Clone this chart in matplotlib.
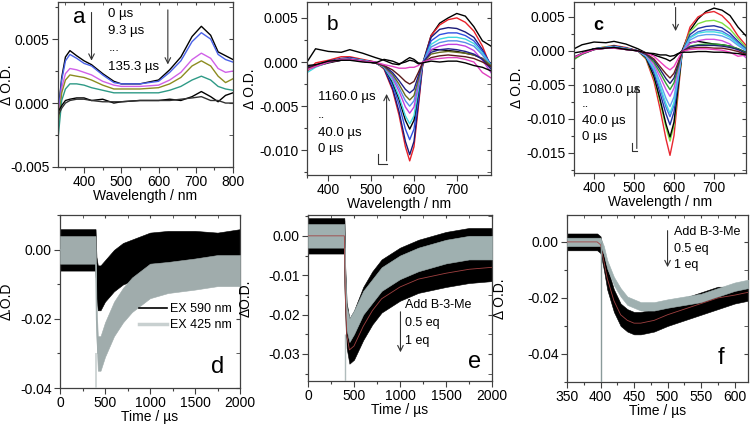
import numpy as np
import matplotlib
matplotlib.use('Agg')
import matplotlib.pyplot as plt
from matplotlib.ticker import MultipleLocator, FormatStrFormatter

plt.rcParams['font.family'] = ['Liberation Sans', 'DejaVu Sans']
plt.rcParams['font.size'] = 10
plt.rcParams['axes.unicode_minus'] = False

# ---------------- panel a: transient spectra (0 .. 135.3 us)
wl_a = [330, 340, 350, 362, 380, 400, 420, 450, 480, 500, 550, 600, 630, 660, 690, 715, 740, 760, 780, 800]
a_black = [-0.0008, 0.0020, 0.0036, 0.0041, 0.0037, 0.0033, 0.0030, 0.0023, 0.0017, 0.0015, 0.0015, 0.0018, 0.0026, 0.0036, 0.0052, 0.0060, 0.0053, 0.0040, 0.0037, 0.0034]
a_blue = [-0.0010, 0.0018, 0.0033, 0.0038, 0.0035, 0.0031, 0.0029, 0.0022, 0.0016, 0.0015, 0.0015, 0.0017, 0.0024, 0.0033, 0.0048, 0.0055, 0.0050, 0.0038, 0.0034, 0.0032]
a_magenta = [-0.0015, 0.0012, 0.0023, 0.0027, 0.0026, 0.0024, 0.0022, 0.0017, 0.0014, 0.0013, 0.0013, 0.0014, 0.0018, 0.0024, 0.0034, 0.0039, 0.0035, 0.0027, 0.0024, 0.0025]
a_olive = [-0.0020, 0.0008, 0.0018, 0.0022, 0.0021, 0.0020, 0.0018, 0.0014, 0.0011, 0.0011, 0.0011, 0.0012, 0.0015, 0.0020, 0.0029, 0.0033, 0.0029, 0.0021, 0.0016, 0.0019]
a_teal = [-0.0028, 0.0002, 0.0011, 0.0015, 0.0015, 0.0014, 0.0012, 0.0010, 0.0008, 0.0008, 0.0008, 0.0008, 0.0010, 0.0013, 0.0018, 0.0021, 0.0018, 0.0013, 0.0011, 0.0010]
a_low1 = [-0.0007, -0.0002, 0.0002, 0.0003, 0.0004, 0.0004, 0.0002, 0.0003, 0.0000, 0.0001, 0.0002, 0.0002, 0.0003, 0.0002, 0.0005, 0.0009, 0.0005, 0.0001, 0.0006, 0.0008]
a_low2 = [-0.0010, -0.0004, 0.0000, 0.0002, 0.0003, 0.0003, 0.0002, 0.0001, 0.0001, 0.0001, 0.0002, 0.0002, 0.0002, 0.0003, 0.0004, 0.0005, 0.0002, 0.0002, 0.0000, 0.0000]
a_series = [a_black, a_blue, a_magenta, a_olive, a_teal, a_low1, a_low2]
a_colors = ['black', '#4a62e8', '#d060e8', '#8c8c20', '#2e9a86', 'black', '#333333']

# ---------------- panel b: spectra 0 .. 1160 us
wl_b = [350, 370, 400, 430, 450, 480, 510, 530, 550, 565, 580, 590, 600, 610, 620, 640, 660, 680, 700, 720, 740, 760, 780]
b_black = [0.0000, 0.0015, 0.0012, 0.0011, 0.0014, 0.0010, 0.0005, 0.0002, -0.0002, -0.0003, 0.0002, 0.0005, 0.0003, -0.0001, -0.0002, 0.0030, 0.0044, 0.0050, 0.0055, 0.0052, 0.0040, 0.0024, 0.0018]
b_red = [-0.0011, -0.0001, 0.0002, 0.0006, 0.0006, 0.0003, 0.0000, -0.0008, -0.0032, -0.0060, -0.0096, -0.0112, -0.0096, -0.0052, -0.0005, 0.0030, 0.0042, 0.0048, 0.0050, 0.0045, 0.0035, 0.0018, -0.0006]
b_navy = [-0.0006, -0.0004, 0.0001, 0.0004, 0.0005, 0.0002, 0.0000, -0.0007, -0.0030, -0.0056, -0.0090, -0.0105, -0.0090, -0.0048, -0.0004, 0.0028, 0.0037, 0.0039, 0.0038, 0.0034, 0.0028, 0.0014, -0.0004]
b_blue = [-0.0008, -0.0005, 0.0000, 0.0003, 0.0004, 0.0002, -0.0001, -0.0006, -0.0026, -0.0048, -0.0076, -0.0088, -0.0076, -0.0041, -0.0003, 0.0024, 0.0031, 0.0033, 0.0033, 0.0030, 0.0024, 0.0012, -0.0003]
b_black2 = [-0.0005, -0.0005, -0.0001, 0.0002, 0.0003, 0.0001, -0.0001, -0.0006, -0.0023, -0.0042, -0.0066, -0.0076, -0.0066, -0.0035, -0.0002, 0.0014, 0.0014, 0.0013, 0.0012, 0.0010, 0.0008, 0.0004, -0.0006]
b_cyan = [-0.0012, -0.0006, 0.0000, 0.0003, 0.0004, 0.0002, -0.0001, -0.0006, -0.0021, -0.0039, -0.0061, -0.0070, -0.0061, -0.0032, -0.0002, 0.0020, 0.0026, 0.0028, 0.0028, 0.0026, 0.0021, 0.0010, -0.0004]
b_violet = [-0.0008, -0.0005, 0.0000, 0.0003, 0.0004, 0.0001, -0.0001, -0.0005, -0.0018, -0.0033, -0.0051, -0.0058, -0.0051, -0.0027, -0.0002, 0.0014, 0.0018, 0.0020, 0.0020, 0.0018, 0.0013, 0.0002, -0.0012]
b_lblue = [-0.0007, -0.0004, 0.0000, 0.0003, 0.0004, 0.0001, -0.0001, -0.0005, -0.0016, -0.0029, -0.0044, -0.0050, -0.0044, -0.0023, -0.0001, 0.0017, 0.0022, 0.0024, 0.0024, 0.0022, 0.0018, 0.0008, -0.0006]
b_olive = [-0.0009, -0.0005, 0.0000, 0.0003, 0.0003, 0.0001, -0.0001, -0.0005, -0.0014, -0.0025, -0.0038, -0.0043, -0.0038, -0.0020, -0.0001, 0.0009, 0.0011, 0.0012, 0.0011, 0.0010, 0.0008, 0.0004, -0.0004]
b_navy2 = [-0.0006, -0.0004, 0.0000, 0.0002, 0.0003, 0.0001, -0.0001, -0.0004, -0.0012, -0.0021, -0.0031, -0.0035, -0.0031, -0.0016, -0.0001, 0.0011, 0.0014, 0.0015, 0.0014, 0.0012, 0.0009, 0.0003, -0.0008]
b_brown = [-0.0007, -0.0004, 0.0000, 0.0002, 0.0003, 0.0001, -0.0001, -0.0004, -0.0009, -0.0015, -0.0022, -0.0025, -0.0022, -0.0012, -0.0001, 0.0005, 0.0007, 0.0008, 0.0007, 0.0006, 0.0004, 0.0000, -0.0005]
b_pink = [-0.0009, -0.0005, 0.0000, 0.0003, 0.0003, 0.0001, 0.0000, -0.0003, -0.0005, -0.0007, -0.0007, -0.0006, -0.0006, -0.0004, 0.0000, 0.0003, 0.0004, 0.0005, 0.0005, 0.0003, 0.0000, -0.0012, -0.0018]
b_black3 = [-0.0004, -0.0003, 0.0001, 0.0002, 0.0002, 0.0000, -0.0001, 0.0003, 0.0001, -0.0002, 0.0000, 0.0002, 0.0001, -0.0002, -0.0001, 0.0001, 0.0000, 0.0001, 0.0001, -0.0001, -0.0004, -0.0006, -0.0010]
b_series = [b_black, b_red, b_navy, b_blue, b_black2, b_cyan, b_violet, b_lblue, b_olive, b_navy2, b_brown, b_pink, b_black3]
b_colors = ['black', '#e82028', '#1a1a78', '#3050e0', 'black', '#40d8e0', '#c040e0', '#5a8ce8', '#6a6a20', '#20208a', '#5a1a1a', '#e040c0', 'black']

# ---------------- panel c: spectra 0 .. 1080 us
wl_c = wl_b
c_black = [0.0003, 0.0009, 0.0013, 0.0012, 0.0014, 0.0010, 0.0003, -0.0003, -0.0006, -0.0009, -0.0012, -0.0015, -0.0011, -0.0005, 0.0000, 0.0030, 0.0047, 0.0058, 0.0063, 0.0060, 0.0052, 0.0035, 0.0022]
c_red = [-0.0010, -0.0004, 0.0003, 0.0006, 0.0008, 0.0005, 0.0000, -0.0012, -0.0045, -0.0085, -0.0130, -0.0154, -0.0125, -0.0065, -0.0005, 0.0035, 0.0050, 0.0056, 0.0058, 0.0052, 0.0040, 0.0022, 0.0008]
c_lime = [-0.0013, -0.0005, 0.0003, 0.0006, 0.0007, 0.0004, 0.0000, -0.0011, -0.0040, -0.0075, -0.0113, -0.0133, -0.0110, -0.0058, -0.0004, 0.0028, 0.0040, 0.0044, 0.0045, 0.0041, 0.0032, 0.0018, 0.0005]
c_black2 = [-0.0010, -0.0004, 0.0003, 0.0005, 0.0007, 0.0004, 0.0000, -0.0010, -0.0038, -0.0071, -0.0108, -0.0127, -0.0105, -0.0055, -0.0004, 0.0012, 0.0014, 0.0012, 0.0010, 0.0009, 0.0007, 0.0003, -0.0002]
c_navy = [-0.0010, -0.0004, 0.0003, 0.0005, 0.0007, 0.0004, 0.0000, -0.0009, -0.0033, -0.0062, -0.0093, -0.0109, -0.0090, -0.0048, -0.0003, 0.0024, 0.0033, 0.0036, 0.0037, 0.0034, 0.0026, 0.0014, 0.0003]
c_blue = [-0.0010, -0.0004, 0.0003, 0.0005, 0.0006, 0.0004, 0.0000, -0.0008, -0.0029, -0.0055, -0.0083, -0.0097, -0.0080, -0.0043, -0.0003, 0.0020, 0.0028, 0.0031, 0.0031, 0.0029, 0.0022, 0.0012, 0.0002]
c_cyan = [-0.0011, -0.0005, 0.0002, 0.0005, 0.0006, 0.0003, 0.0000, -0.0008, -0.0027, -0.0052, -0.0078, -0.0092, -0.0076, -0.0040, -0.0003, 0.0019, 0.0026, 0.0028, 0.0028, 0.0026, 0.0020, 0.0010, 0.0001]
c_lblue = [-0.0010, -0.0004, 0.0002, 0.0005, 0.0006, 0.0003, 0.0000, -0.0007, -0.0024, -0.0046, -0.0070, -0.0082, -0.0068, -0.0036, -0.0002, 0.0016, 0.0022, 0.0024, 0.0024, 0.0022, 0.0017, 0.0008, 0.0000]
c_violet = [-0.0011, -0.0005, 0.0002, 0.0004, 0.0005, 0.0003, 0.0000, -0.0006, -0.0020, -0.0038, -0.0057, -0.0067, -0.0055, -0.0029, -0.0002, 0.0011, 0.0015, 0.0017, 0.0017, 0.0015, 0.0010, 0.0000, -0.0010]
c_green = [-0.0012, -0.0005, 0.0002, 0.0004, 0.0005, 0.0003, 0.0000, -0.0005, -0.0017, -0.0032, -0.0048, -0.0057, -0.0047, -0.0025, -0.0002, 0.0007, 0.0009, 0.0010, 0.0010, 0.0009, 0.0007, 0.0003, -0.0003]
c_navy2 = [-0.0009, -0.0004, 0.0002, 0.0004, 0.0005, 0.0002, 0.0000, -0.0005, -0.0014, -0.0027, -0.0041, -0.0048, -0.0040, -0.0021, -0.0001, 0.0006, 0.0008, 0.0008, 0.0008, 0.0007, 0.0005, 0.0002, -0.0004]
c_brown = [-0.0010, -0.0004, 0.0002, 0.0004, 0.0004, 0.0002, 0.0000, -0.0004, -0.0012, -0.0023, -0.0034, -0.0040, -0.0033, -0.0018, -0.0001, 0.0004, 0.0005, 0.0005, 0.0004, 0.0004, 0.0002, -0.0001, -0.0005]
c_pink = [-0.0010, -0.0004, 0.0002, 0.0004, 0.0004, 0.0002, 0.0000, -0.0003, -0.0008, -0.0016, -0.0024, -0.0028, -0.0023, -0.0012, -0.0001, 0.0002, 0.0003, 0.0003, 0.0002, 0.0001, -0.0002, -0.0008, -0.0006]
c_black3 = [-0.0003, -0.0001, 0.0003, 0.0004, 0.0005, 0.0002, 0.0000, -0.0003, -0.0004, -0.0006, -0.0006, -0.0008, -0.0007, -0.0004, -0.0002, -0.0002, -0.0001, -0.0001, -0.0002, -0.0002, -0.0003, -0.0004, -0.0006]
c_series = [c_black, c_red, c_lime, c_black2, c_navy, c_blue, c_cyan, c_lblue, c_violet, c_green, c_navy2, c_brown, c_pink, c_black3]
c_colors = ['black', '#e82830', '#7ee040', 'black', '#2030a0', '#4a70e0', '#40e0e0', '#60a0f0', '#d050e0', '#30a030', '#202070', '#6a2020', '#f040c0', 'black']

# ---------------- kinetics (centre of noisy trace and its half spread)
pulse_t = 400

t_d = [0, 100, 200, 300, 395, 405, 420, 450, 500, 600, 700, 800, 1000, 1200, 1500, 1750, 2000]
d590 = [0.000, 0.000, 0.000, 0.000, 0.000, -0.008, -0.011, -0.011, -0.009, -0.006, -0.004, -0.003, -0.001, 0.000, 0.000, 0.000, 0.001]
d590_sp = [0.006, 0.006, 0.006, 0.006, 0.006, 0.006, 0.0065, 0.0065, 0.006, 0.006, 0.006, 0.006, 0.006, 0.0055, 0.0055, 0.005, 0.005]
d425 = [0.000, 0.000, 0.000, 0.000, 0.000, -0.020, -0.030, -0.030, -0.026, -0.020, -0.016, -0.013, -0.009, -0.008, -0.007, -0.006, -0.006]
d425_sp = [0.004, 0.004, 0.004, 0.004, 0.004, 0.005, 0.005, 0.005, 0.005, 0.005, 0.005, 0.005, 0.005, 0.0045, 0.0045, 0.0045, 0.0045]

t_e = [0, 100, 200, 300, 395, 405, 420, 450, 500, 600, 700, 800, 1000, 1200, 1500, 1750, 2000]
e_0eq = [0, 0, 0, 0, 0, -0.012, -0.021, -0.024, -0.022, -0.017, -0.014, -0.011, -0.008, -0.006, -0.004, -0.003, -0.003]
e_0eq_sp = [0.003, 0.003, 0.003, 0.003, 0.003, 0.003, 0.003, 0.003, 0.003, 0.003, 0.003, 0.003, 0.003, 0.003, 0.003, 0.003, 0.003]
e_05eq = [0, 0, 0, 0, 0, -0.012, -0.021, -0.025, -0.023, -0.017, -0.013, -0.010, -0.007, -0.005, -0.003, -0.002, -0.002]
e_05eq_sp = [0.0045, 0.0045, 0.0045, 0.0045, 0.0045, 0.004, 0.004, 0.004, 0.004, 0.004, 0.004, 0.004, 0.004, 0.004, 0.004, 0.004, 0.004]
e_1eq = [0, 0, 0, 0, 0, -0.014, -0.025, -0.029, -0.028, -0.023, -0.019, -0.016, -0.013, -0.011, -0.0095, -0.0085, -0.008]
e_1eq_sp = [0.004, 0.004, 0.004, 0.004, 0.004, 0.0035, 0.0035, 0.0035, 0.0035, 0.0035, 0.0035, 0.0035, 0.0035, 0.0035, 0.0035, 0.0035, 0.0035]

t_f = [350, 360, 380, 395, 400, 405, 410, 420, 430, 440, 450, 460, 480, 500, 525, 550, 575, 600, 620]
f_1eq = [0, 0, 0, 0, -0.001, -0.007, -0.013, -0.021, -0.026, -0.028, -0.029, -0.029, -0.028, -0.026, -0.024, -0.022, -0.020, -0.019, -0.018]
f_1eq_sp = [0.003, 0.003, 0.003, 0.003, 0.003, 0.003, 0.004, 0.004, 0.004, 0.004, 0.004, 0.004, 0.004, 0.004, 0.004, 0.004, 0.004, 0.003, 0.003]
f_05eq = [0, 0, 0, 0, 0, -0.003, -0.008, -0.014, -0.018, -0.021, -0.022, -0.023, -0.023, -0.022, -0.021, -0.020, -0.018, -0.016, -0.015]
f_05eq_sp = [0.0015] * len(t_f)

GRAY = '#9fb0b0'
SPINE = '#404040'


def style(ax, xlim, ylim, xmaj, xmin, ymaj, ymin, yfmt):
    ax.set_xlim(*xlim)
    ax.set_ylim(*ylim)
    for s in ax.spines.values():
        s.set_color(SPINE)
        s.set_linewidth(0.9)
    ax.xaxis.set_major_locator(MultipleLocator(xmaj))
    ax.xaxis.set_minor_locator(MultipleLocator(xmin))
    ax.yaxis.set_major_locator(MultipleLocator(ymaj))
    ax.yaxis.set_minor_locator(MultipleLocator(ymin))
    ax.yaxis.set_major_formatter(FormatStrFormatter(yfmt))
    ax.tick_params(which='major', direction='out', length=4, width=0.8, color=SPINE, pad=2)
    ax.tick_params(which='minor', direction='out', length=2.5, width=0.8, color=SPINE)
    # mirrored inward ticks on the right and top
    r = ax.secondary_yaxis('right')
    r.yaxis.set_major_locator(MultipleLocator(ymaj))
    r.yaxis.set_minor_locator(MultipleLocator(ymin))
    r.tick_params(which='both', direction='in', length=3, color=SPINE, labelright=False)
    r.spines['right'].set_visible(False)
    t = ax.secondary_xaxis('top')
    t.xaxis.set_major_locator(MultipleLocator(xmaj))
    t.xaxis.set_minor_locator(MultipleLocator(xmin))
    t.tick_params(which='both', direction='in', length=2.5, color=SPINE, labeltop=False)
    t.spines['top'].set_visible(False)


fig = plt.figure(figsize=(7.52, 4.24), dpi=100)
W, H = 752.0, 424.0


def add(l, t, r, b):
    return fig.add_axes([l / W, 1 - b / H, (r - l) / W, (b - t) / H])


ax_a = add(58, 2, 233, 167)
ax_b = add(307, 2, 491, 175)
ax_c = add(574, 2, 746, 173)
ax_d = add(60, 215, 240, 388)
ax_e = add(308, 215, 492, 381)
ax_f = add(567, 215, 748, 382)

# ---- a
for y, c in zip(a_series, a_colors):
    ax_a.plot(wl_a, y, color=c, lw=1.0)
style(ax_a, (330, 800), (-0.005, 0.0079), 100, 50, 0.005, 0.0025, '%.3f')
ax_a.set_xlabel('Wavelength / nm', labelpad=0)
ax_a.set_ylabel('Δ O.D.')
ax_a.yaxis.set_label_coords(-0.25, 0.5)
ax_a.text(370, 0.0067, 'a', fontsize=16, va='center')
for s, yy in zip(['0 µs', '9.3 µs', '...', '135.3 µs'], [0.0070, 0.0056, 0.0043, 0.0028]):
    ax_a.text(465, yy, s, fontsize=9.5, va='center')
ax_a.annotate('', xy=(420, 0.0031), xytext=(420, 0.0073),
              arrowprops=dict(arrowstyle='->', lw=0.8, color='#333333'))
ax_a.annotate('', xy=(625, 0.0028), xytext=(625, 0.0075),
              arrowprops=dict(arrowstyle='->', lw=0.8, color='#333333'))

# ---- b
for y, c in zip(b_series, b_colors):
    ax_b.plot(wl_b, y, color=c, lw=1.0)
style(ax_b, (350, 780), (-0.0128, 0.0068), 100, 50, 0.005, 0.0025, '%.3f')
ax_b.set_xlabel('Wavelength / nm', labelpad=0)
ax_b.set_ylabel('Δ O.D.')
ax_b.yaxis.set_label_coords(-0.27, 0.5)
ax_b.text(395, 0.0042, 'b', fontsize=15, va='center')
for s, yy in zip(['1160.0 µs', '..', '40.0 µs', '0 µs'], [-0.0040, -0.0060, -0.0080, -0.0099]):
    ax_b.text(375, yy, s, fontsize=9.5, va='center')
ax_b.plot([516, 516, 536], [-0.0104, -0.0115, -0.0115], color='#333333', lw=0.8)
ax_b.annotate('', xy=(536, -0.0033), xytext=(536, -0.0115),
              arrowprops=dict(arrowstyle='->', lw=0.8, color='#333333'))

# ---- c
for y, c in zip(c_series, c_colors):
    ax_c.plot(wl_c, y, color=c, lw=1.0)
style(ax_c, (350, 780), (-0.018, 0.0072), 100, 50, 0.005, 0.0025, '%.3f')
ax_c.set_xlabel('Wavelength / nm', labelpad=0)
ax_c.set_ylabel('Δ O.D.')
ax_c.yaxis.set_label_coords(-0.29, 0.5)
ax_c.text(398, 0.0038, 'c', fontsize=13, fontweight='bold', va='center')
for s, yy in zip(['1080.0 µs', '..', '40.0 µs', '0 µs'], [-0.0057, -0.0079, -0.0104, -0.0127]):
    ax_c.text(370, yy, s, fontsize=9.5, va='center')
ax_c.plot([494, 494, 507], [-0.0136, -0.0148, -0.0148], color='#333333', lw=0.8)
ax_c.annotate('', xy=(507, -0.0047), xytext=(507, -0.0148),
              arrowprops=dict(arrowstyle='->', lw=0.8, color='#333333'))
ax_c.annotate('', xy=(604, 0.0025), xytext=(604, 0.0068),
              arrowprops=dict(arrowstyle='->', lw=0.8, color='#333333'))


def band(ax, t, y, sp, color, z):
    y = np.array(y)
    sp = np.array(sp)
    ax.fill_between(t, y - sp, y + sp, color=color, lw=0.4, edgecolor=color, zorder=z)
    ax.plot(t, y, color=color, lw=0.8, zorder=z)


# ---- d
band(ax_d, t_d, d590, d590_sp, 'black', 2)
band(ax_d, t_d, d425, d425_sp, '#a0acac', 3)
ax_d.vlines(pulse_t, -0.04, -0.03, color='#c8d0d0', lw=1.2, zorder=3)
style(ax_d, (0, 2000), (-0.04, 0.0101), 500, 250, 0.02, 0.01, '%.2f')
ax_d.set_xlabel('Time / µs', labelpad=0)
ax_d.set_ylabel('Δ.O.D')
ax_d.yaxis.set_label_coords(-0.26, 0.5)
h1, = ax_d.plot([], [], color='black', lw=1.2)
h2, = ax_d.plot([], [], color='#c8d0d0', lw=2.5)
ax_d.legend([h1, h2], ['EX 590 nm', 'EX 425 nm'], loc='upper left', bbox_to_anchor=(0.44, 0.49),
            frameon=False, fontsize=9, handlelength=2.2, handletextpad=0.3, labelspacing=0.3,
            borderaxespad=0, borderpad=0)
ax_d.text(1680, -0.034, 'd', fontsize=17, va='center')

# ---- e
band(ax_e, t_e, e_05eq, e_05eq_sp, 'black', 2)
band(ax_e, t_e, e_1eq, e_1eq_sp, 'black', 2)
band(ax_e, t_e, e_0eq, e_0eq_sp, GRAY, 3)
ax_e.plot(t_e, e_1eq, color='#a04040', lw=0.6, zorder=4)
ax_e.vlines(pulse_t, -0.0369, -0.025, color='#b0bcbc', lw=1.0, zorder=3)
style(ax_e, (0, 2000), (-0.0369, 0.0053), 500, 250, 0.01, 0.005, '%.2f')
ax_e.set_xlabel('Time / µs', labelpad=0)
ax_e.set_ylabel('ΔO.D.')
ax_e.yaxis.set_label_coords(-0.30, 0.5)
for s, yy in zip(['Add B-3-Me', '0.5 eq', '1 eq'], [-0.0176, -0.0221, -0.0267]):
    ax_e.text(1050, yy, s, fontsize=9, va='center')
ax_e.annotate('', xy=(1005, -0.0303), xytext=(1005, -0.0186),
              arrowprops=dict(arrowstyle='->', lw=0.8, color='#333333'))
ax_e.text(1740, -0.032, 'e', fontsize=17, va='center')

# ---- f
band(ax_f, t_f, f_1eq, f_1eq_sp, 'black', 2)
band(ax_f, t_f, f_05eq, f_05eq_sp, GRAY, 3)
ax_f.plot(t_f, f_1eq, color='#a04040', lw=0.6, zorder=4)
ax_f.vlines(pulse_t, -0.05, 0.0, color='#8a9a9a', lw=1.0, zorder=4)
style(ax_f, (350, 620), (-0.05, 0.0096), 50, 25, 0.02, 0.01, '%.2f')
ax_f.set_xlabel('Time / µs', labelpad=0)
ax_f.set_ylabel('Δ O.D.')
ax_f.yaxis.set_label_coords(-0.33, 0.5)
for s, yy in zip(['Add B-3-Me', '0.5 eq', '1 eq'], [0.0036, -0.0025, -0.0082]):
    ax_f.text(510, yy, s, fontsize=9, va='center')
ax_f.annotate('', xy=(500, -0.010), xytext=(500, 0.005),
              arrowprops=dict(arrowstyle='->', lw=0.8, color='#333333'))
ax_f.text(575, -0.0414, 'f', fontsize=17, va='center')

fig.savefig('out.png', dpi=100)
